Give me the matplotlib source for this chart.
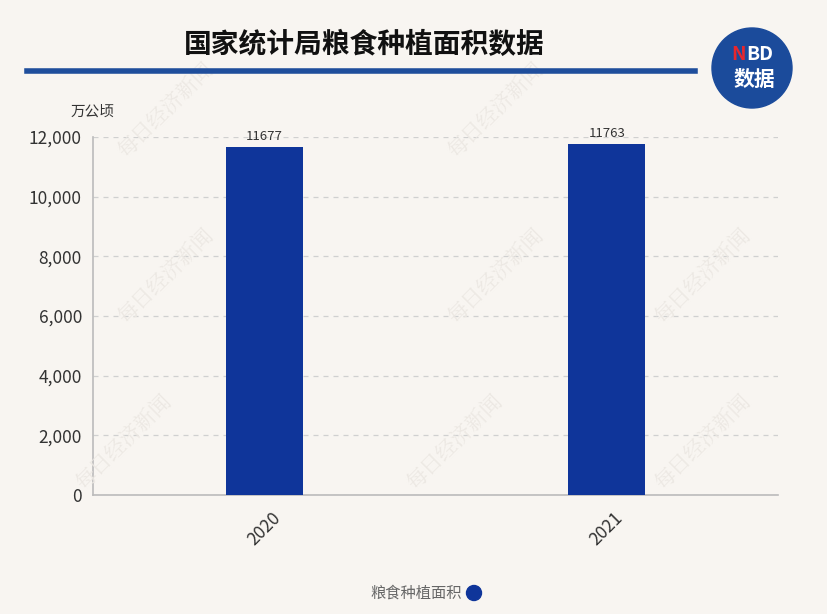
import matplotlib
matplotlib.use("Agg")
import matplotlib.pyplot as plt
from matplotlib.patches import Ellipse
from matplotlib.lines import Line2D

plt.rcParams['font.family'] = ['Noto Sans CJK SC', 'DejaVu Sans']

categories = ["2020", "2021"]
values = [11677, 11763]
yticks = [0, 2000, 4000, 6000, 8000, 10000, 12000]
title = "国家统计局粮食种植面积数据"
unit = "万公顷"
series_name = "粮食种植面积"

bg = "#f8f5f1"
bar_color = "#0f359a"
W, H = 827, 614

fig = plt.figure(figsize=(8.27, 6.14), dpi=100, facecolor=bg)
ax = fig.add_axes([93 / W, 1 - 495 / H, (778 - 93) / W, (495 - 137) / H], facecolor=bg)

x = list(range(len(categories)))
ax.bar(x, values, width=0.225, color=bar_color, zorder=3)
for xi, v in zip(x, values):
    ax.text(xi, v + 120, str(v), ha='center', va='bottom', fontsize=9.5, color='#333333', zorder=4)

ax.set_xlim(-0.5, 1.5)
ax.set_ylim(0, 12000)
ax.set_yticks(yticks)
ax.set_yticklabels([f"{t:,}" for t in yticks], fontsize=12.5, color='#333333')
ax.set_xticks(x)
ax.set_xticklabels(categories, rotation=45, fontsize=12.5, color='#333333')
ax.tick_params(axis='both', length=0, pad=8)
ax.tick_params(axis='x', pad=10)
ax.grid(axis='y', linestyle=(0, (4, 4)), color='#d0d0d0', linewidth=0.9, zorder=0)
for s in ['top', 'right']:
    ax.spines[s].set_visible(False)
ax.spines['left'].set_color('#bbbbbb')
ax.spines['bottom'].set_color('#bbbbbb')
ax.spines['left'].set_linewidth(1.2)
ax.spines['bottom'].set_linewidth(1.2)

# watermarks
for (wx, wy) in [(0.2, 0.82), (0.6, 0.82), (0.2, 0.55), (0.6, 0.55), (0.85, 0.55),
                 (0.15, 0.28), (0.55, 0.28), (0.85, 0.28)]:
    fig.text(wx, wy, "每日经济新闻", rotation=45, fontsize=15, color='#ece8e3',
             ha='center', va='center', zorder=0, family=['Noto Serif CJK SC', 'Noto Sans CJK SC'])

fig.text(364 / W, 1 - 45 / H, title, ha='center', va='center', fontsize=20, fontweight='bold', color='#111111')
fig.add_artist(Line2D([27 / W, 695 / W], [1 - 71 / H] * 2, color='#1f4e9c', linewidth=4))
fig.text(92 / W, 1 - 112 / H, unit, ha='center', va='center', fontsize=10.5, color='#333333')

# logo
logo = Ellipse((752 / W, 1 - 68 / H), 80 / W, 80 / H, transform=fig.transFigure, color='#1b4b9b', zorder=5)
fig.add_artist(logo)
fig.text(746 / W, 1 - 54 / H, "N", ha='right', va='center', fontsize=14, fontweight='bold', color='#e8262d', zorder=6)
fig.text(746 / W, 1 - 54 / H, "BD", ha='left', va='center', fontsize=14, fontweight='bold', color='white', zorder=6)
fig.text(754 / W, 1 - 79 / H, "数据", ha='center', va='center', fontsize=15, fontweight='bold', color='white', zorder=6)

# legend
fig.text(462 / W, 1 - 593 / H, series_name, ha='right', va='center', fontsize=11, color='#666666')
fig.add_artist(Ellipse((474 / W, 1 - 593 / H), 15 / W, 15 / H, transform=fig.transFigure, color=bar_color))

fig.savefig("out.png", dpi=100, facecolor=bg)
